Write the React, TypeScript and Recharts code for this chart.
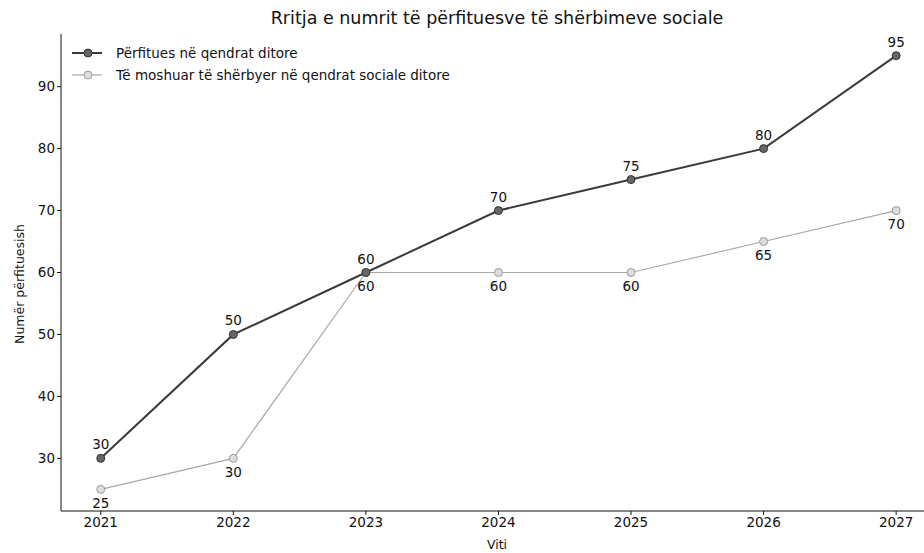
import React from "react";
import { LineChart, Line, XAxis, YAxis, LabelList, Label } from "recharts";

const years = [2021, 2022, 2023, 2024, 2025, 2026, 2027];
const beneficiaries = [30, 50, 60, 70, 75, 80, 95];
const elderly = [25, 30, 60, 60, 60, 65, 70];
const yTicks = [30, 40, 50, 60, 70, 80, 90];

const seriesNames = [
  "Përfitues në qendrat ditore",
  "Të moshuar të shërbyer në qendrat sociale ditore",
];
const title = "Rritja e numrit të përfituesve të shërbimeve sociale";

const data = years.map((y, i) => ({ year: y, a: beneficiaries[i], b: elderly[i] }));

const FONT = "'DejaVu Sans', sans-serif";
const FS = 13.5;

const LegendBox = () => (
  <div
    style={{
      position: "absolute",
      left: 70,
      top: 42,
      fontFamily: FONT,
      fontSize: FS,
      color: "#111",
      lineHeight: "22px",
      zIndex: 2,
    }}
  >
    <div style={{ display: "flex", alignItems: "center", height: 22 }}>
      <svg width={34} height={12}>
        <line x1={2} y1={6} x2={32} y2={6} stroke="#3a3a3a" strokeWidth={2} />
        <circle cx={18} cy={6} r={4} fill="#666" stroke="#333" strokeWidth={1} />
      </svg>
      <span style={{ marginLeft: 12 }}>{seriesNames[0]}</span>
    </div>
    <div style={{ display: "flex", alignItems: "center", height: 22 }}>
      <svg width={34} height={12}>
        <line x1={2} y1={6} x2={32} y2={6} stroke="#a8a8a8" strokeWidth={1.2} />
        <circle cx={18} cy={6} r={4} fill="#ddd" stroke="#999" strokeWidth={1} />
      </svg>
      <span style={{ marginLeft: 12 }}>{seriesNames[1]}</span>
    </div>
  </div>
);

export default function App() {
  return (
    <div style={{ position: "absolute", left: 0, top: 0, width: 924, height: 553, background: "#fff" }}>
      <div
        style={{
          position: "absolute",
          left: 0,
          top: 7,
          width: 994,
          textAlign: "center",
          fontFamily: FONT,
          fontSize: 17.5,
          lineHeight: "22px",
          color: "#111",
          zIndex: 2,
        }}
      >
        {title}
      </div>
      <LegendBox />
      <LineChart
        width={924}
        height={553}
        data={data}
        margin={{ top: 34, right: 0, left: 21, bottom: 0 }}
        style={{ fontFamily: FONT }}
      >
        <XAxis
          dataKey="year"
          type="number"
          domain={[2020.7, 2027.21]}
          ticks={years}
          allowDataOverflow
          height={42}
          stroke="#111"
          tickLine={{ stroke: "#111" }}
          tickSize={4}
          tick={{ fontSize: FS, fill: "#111", fontFamily: FONT }}
        >
          <Label
            content={() => (
              <text x={497} y={549} textAnchor="middle" fontSize={12.5} fill="#111" fontFamily={FONT}>
                Viti
              </text>
            )}
          />
        </XAxis>
        <YAxis
          type="number"
          domain={[21.5, 98.5]}
          ticks={yTicks}
          allowDataOverflow
          width={40}
          stroke="#111"
          tickSize={4}
          tick={{ fontSize: FS, fill: "#111", fontFamily: FONT }}
        >
          <Label
            content={() => (
              <text
                x={24}
                y={284}
                transform="rotate(-90 24 284)"
                textAnchor="middle"
                fontSize={12.5}
                fill="#111"
                fontFamily={FONT}
              >
                Numër përfituesish
              </text>
            )}
          />
        </YAxis>
        <Line
          type="linear"
          dataKey="b"
          stroke="#a8a8a8"
          strokeWidth={1.2}
          dot={{ r: 4, fill: "#ddd", stroke: "#999", strokeWidth: 1 }}
          isAnimationActive={false}
        >
          <LabelList dataKey="b" position="bottom" offset={9} fontSize={FS} fill="#111" fontFamily={FONT} />
        </Line>
        <Line
          type="linear"
          dataKey="a"
          stroke="#3a3a3a"
          strokeWidth={2}
          dot={{ r: 4, fill: "#666", stroke: "#333", strokeWidth: 1 }}
          isAnimationActive={false}
        >
          <LabelList dataKey="a" position="top" offset={9} fontSize={FS} fill="#111" fontFamily={FONT} />
        </Line>
      </LineChart>
    </div>
  );
}
